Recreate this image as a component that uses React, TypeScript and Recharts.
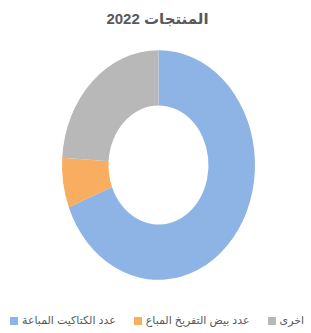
import { Legend, Pie, PieChart } from 'recharts'

const categories = ['عدد الكتاكيت المباعة', 'عدد بيض التفريخ المباع', 'اخرى']
const shares = [69, 7, 24]
const colors = ['#8db4e4', '#f8ad60', '#b8b8b8']

const title = 'المنتجات 2022'

const data = categories.map((name, i) => ({ name, value: shares[i], fill: colors[i] }))

const FONT = "'Liberation Sans', 'DejaVu Sans', sans-serif"

export default function App() {
  return (
    <div style={{ position: 'absolute', left: 0, top: 0, width: 311, height: 333, background: '#fff' }}>
      {/* the photographed donut is taller than wide, so stretch the ring vertically (outer layer only) */}
      <style>{`.donut { transform-origin: 158.5px 165px; transform: scaleY(1.19); } .donut .donut { transform: none; }`}</style>
      <div
        style={{
          position: 'absolute',
          top: 10,
          left: 0,
          width: 315,
          textAlign: 'center',
          fontFamily: FONT,
          fontWeight: 'bold',
          fontSize: 15,
          color: '#595959',
        }}
      >
        {title}
      </div>
      <PieChart width={311} height={333} margin={{ top: 0, right: 0, bottom: 0, left: 0 }}>
        <Pie
          className="donut"
          data={data}
          dataKey="value"
          nameKey="name"
          cx={158.5}
          cy={165}
          innerRadius={50}
          outerRadius={96.5}
          startAngle={90}
          endAngle={-270}
          stroke="none"
          isAnimationActive={false}
        />
        <Legend
          verticalAlign="bottom"
          align="left"
          iconType="square"
          iconSize={8}
          itemSorter={(item) => categories.indexOf(String(item.value))}
          wrapperStyle={{ bottom: 6, left: 10, width: 301, whiteSpace: 'nowrap', fontFamily: FONT, fontSize: 11 }}
          formatter={(value) => <span style={{ color: '#595959', marginRight: 8 }}>{value}</span>}
        />
      </PieChart>
    </div>
  )
}
